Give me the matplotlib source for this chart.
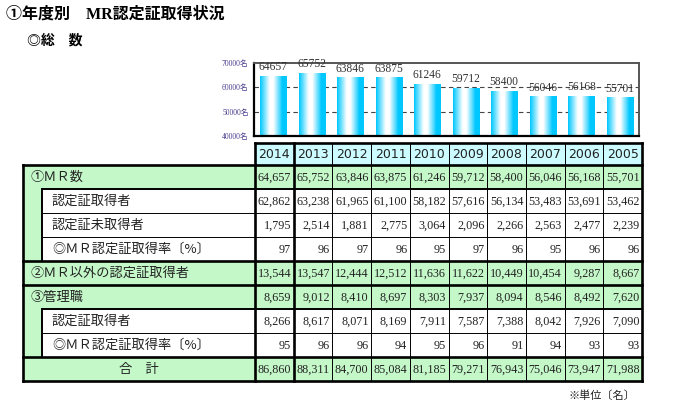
"""
MR certification status by year - chart + table
"""
import numpy as np
import matplotlib
matplotlib.use('Agg')
import matplotlib.pyplot as plt
from matplotlib.colors import LinearSegmentedColormap
from matplotlib.patches import Rectangle

plt.rcParams['font.family'] = ['Noto Sans CJK JP', 'DejaVu Sans']

# data
years = [2014, 2013, 2012, 2011, 2010, 2009, 2008, 2007, 2006, 2005]
mr_total = [64657, 65752, 63846, 63875, 61246, 59712, 58400, 56046, 56168, 55701]
mr_cert = [62862, 63238, 61965, 61100, 58182, 57616, 56134, 53483, 53691, 53462]
mr_uncert = [1795, 2514, 1881, 2775, 3064, 2096, 2266, 2563, 2477, 2239]
mr_rate = [97, 96, 97, 96, 95, 97, 96, 95, 96, 96]
non_mr_cert = [13544, 13547, 12444, 12512, 11636, 11622, 10449, 10454, 9287, 8667]
mgr_total = [8659, 9012, 8410, 8697, 8303, 7937, 8094, 8546, 8492, 7620]
mgr_cert = [8266, 8617, 8071, 8169, 7911, 7587, 7388, 8042, 7926, 7090]
mgr_rate = [95, 96, 96, 94, 95, 96, 91, 94, 93, 93]
grand_total = [86860, 88311, 84700, 85084, 81185, 79271, 76943, 75046, 73947, 71988]
y_ticks = [40000, 50000, 60000, 70000]

row_labels = ['①ＭＲ数', '認定証取得者', '認定証未取得者', '◎ＭＲ認定証取得率〔%〕',
              '②ＭＲ以外の認定証取得者', '③管理職', '認定証取得者',
              '◎ＭＲ認定証取得率〔%〕', '合　計']
row_data = [mr_total, mr_cert, mr_uncert, mr_rate, non_mr_cert,
            mgr_total, mgr_cert, mgr_rate, grand_total]
row_kind = ['group', 'sub', 'sub', 'sub', 'group', 'group', 'sub', 'sub', 'total']

W, H = 679, 415
GREEN = '#c4f8c8'
CYAN = '#ccfcff'
SERIF = ['Liberation Serif', 'Noto Sans CJK JP']

fig = plt.figure(figsize=(W / 100, H / 100), dpi=100)
fig.patch.set_facecolor('white')

# background axes in pixel coords for titles and table
bg = fig.add_axes([0, 0, 1, 1])
bg.set_xlim(0, W)
bg.set_ylim(H, 0)
bg.axis('off')

bg.text(6, 15, '①年度別　MR認定証取得状況', fontsize=11.5, fontweight='bold',
        va='center', ha='left', family=SERIF)
bg.text(27, 40, '◎総　数', fontsize=10, fontweight='bold', va='center', ha='left')

# ---- bar chart ----
cl, cr, ct, cb = 254, 639, 63, 136
ax = fig.add_axes([cl / W, 1 - cb / H, (cr - cl) / W, (cb - ct) / H])
ax.set_xlim(-0.5, len(years) - 0.5)
ax.set_ylim(40000, 70000)

cmap = LinearSegmentedColormap.from_list(
    'bar', [(0, '#00c8ff'), (0.36, '#ffffff'), (0.5, '#ffffff'),
            (0.84, '#00c8ff'), (1, '#00c8ff')])
grad = np.linspace(0, 1, 64).reshape(1, -1)
bw = 0.68
for i, v in enumerate(mr_total):
    ax.imshow(grad, cmap=cmap, aspect='auto', zorder=2,
              extent=[i - bw / 2, i + bw / 2, 40000, v])
    ax.text(i, v + 1300, str(v), ha='center', va='bottom', fontsize=8.3,
            family=SERIF, color='#333333', zorder=4)

for g in [50000, 60000]:
    ax.axhline(g, color='#444444', lw=0.8, dashes=(4, 3), zorder=1)

ax.set_yticks(y_ticks)
ax.set_yticklabels([f'{t}名' for t in y_ticks], fontsize=5.5,
                   family=SERIF, color='#4b3f8f')
ax.set_xticks([])
ax.tick_params(axis='y', length=0, pad=4)
for s in ['left', 'bottom']:
    ax.spines[s].set_linewidth(1.6)
    ax.spines[s].set_color('black')
for s in ['top', 'right']:
    ax.spines[s].set_linewidth(1.4)
    ax.spines[s].set_color('#555555')

# ---- table ----
xs = np.linspace(255, 642, len(years) + 1)
ys = [143] + [165 + 24 * k for k in range(len(row_labels) + 1)]
x0, x_ind = 23, 42

# header
bg.add_patch(Rectangle((xs[0], ys[0]), xs[-1] - xs[0], ys[1] - ys[0],
                       facecolor=CYAN, edgecolor='none'))
for j, yr in enumerate(years):
    bg.text((xs[j] + xs[j + 1]) / 2, (ys[0] + ys[1]) / 2 + 0.5, str(yr),
            ha='center', va='center', fontsize=9, color='#222222',
            family='DejaVu Sans')

for r, (lab, vals, kind) in enumerate(zip(row_labels, row_data, row_kind)):
    ya, yb = ys[r + 1], ys[r + 2]
    yc = (ya + yb) / 2
    if kind == 'sub':
        bg.add_patch(Rectangle((x0, ya), x_ind - x0, yb - ya,
                               facecolor=GREEN, edgecolor='none'))
    else:
        bg.add_patch(Rectangle((x0, ya), xs[-1] - x0, yb - ya,
                               facecolor=GREEN, edgecolor='none'))
    if kind == 'total':
        bg.text((x0 + xs[0]) / 2, yc, lab, ha='center', va='center',
                fontsize=9.5, color='#222222')
    else:
        bg.text(31 if kind == 'group' else 52, yc, lab, ha='left', va='center',
                fontsize=9.5, color='#222222')
    for j, v in enumerate(vals):
        bg.text(xs[j + 1] - 2.5, yc + 0.5, f'{v:,}', ha='right', va='center',
                fontsize=8.7, family=SERIF, color='#222222')

THICK, MED, THIN = 1.9, 1.4, 0.7


def hline(y, xa, xb, lw):
    bg.plot([xa, xb], [y, y], color='black', lw=lw, solid_capstyle='projecting')


def vline(x, ya, yb, lw):
    bg.plot([x, x], [ya, yb], color='black', lw=lw, solid_capstyle='projecting')


# thin grid
for x in xs[2:-1]:
    vline(x, ys[0], ys[-1], THIN)
for k in [3, 4, 8]:
    hline(ys[k], x_ind, xs[-1], THIN)
# medium
hline(ys[2], x_ind, xs[-1], MED)
hline(ys[7], x_ind, xs[-1], MED)
vline(x_ind, ys[2], ys[5], MED)
vline(x_ind, ys[7], ys[9], MED)
# thick
hline(ys[0], xs[0], xs[-1], THICK)
for k in [1, 5, 6, 9, 10]:
    hline(ys[k], x0, xs[-1], THICK)
vline(x0, ys[1], ys[-1], THICK)
vline(xs[0], ys[0], ys[-1], THICK)
vline(xs[1], ys[0], ys[-1], THICK)
vline(xs[-1], ys[0], ys[-1], THICK)

bg.text(635, 396, '※単位〔名〕', ha='right', va='center', fontsize=8,
        color='#222222')

fig.savefig('out.png', dpi=100)
